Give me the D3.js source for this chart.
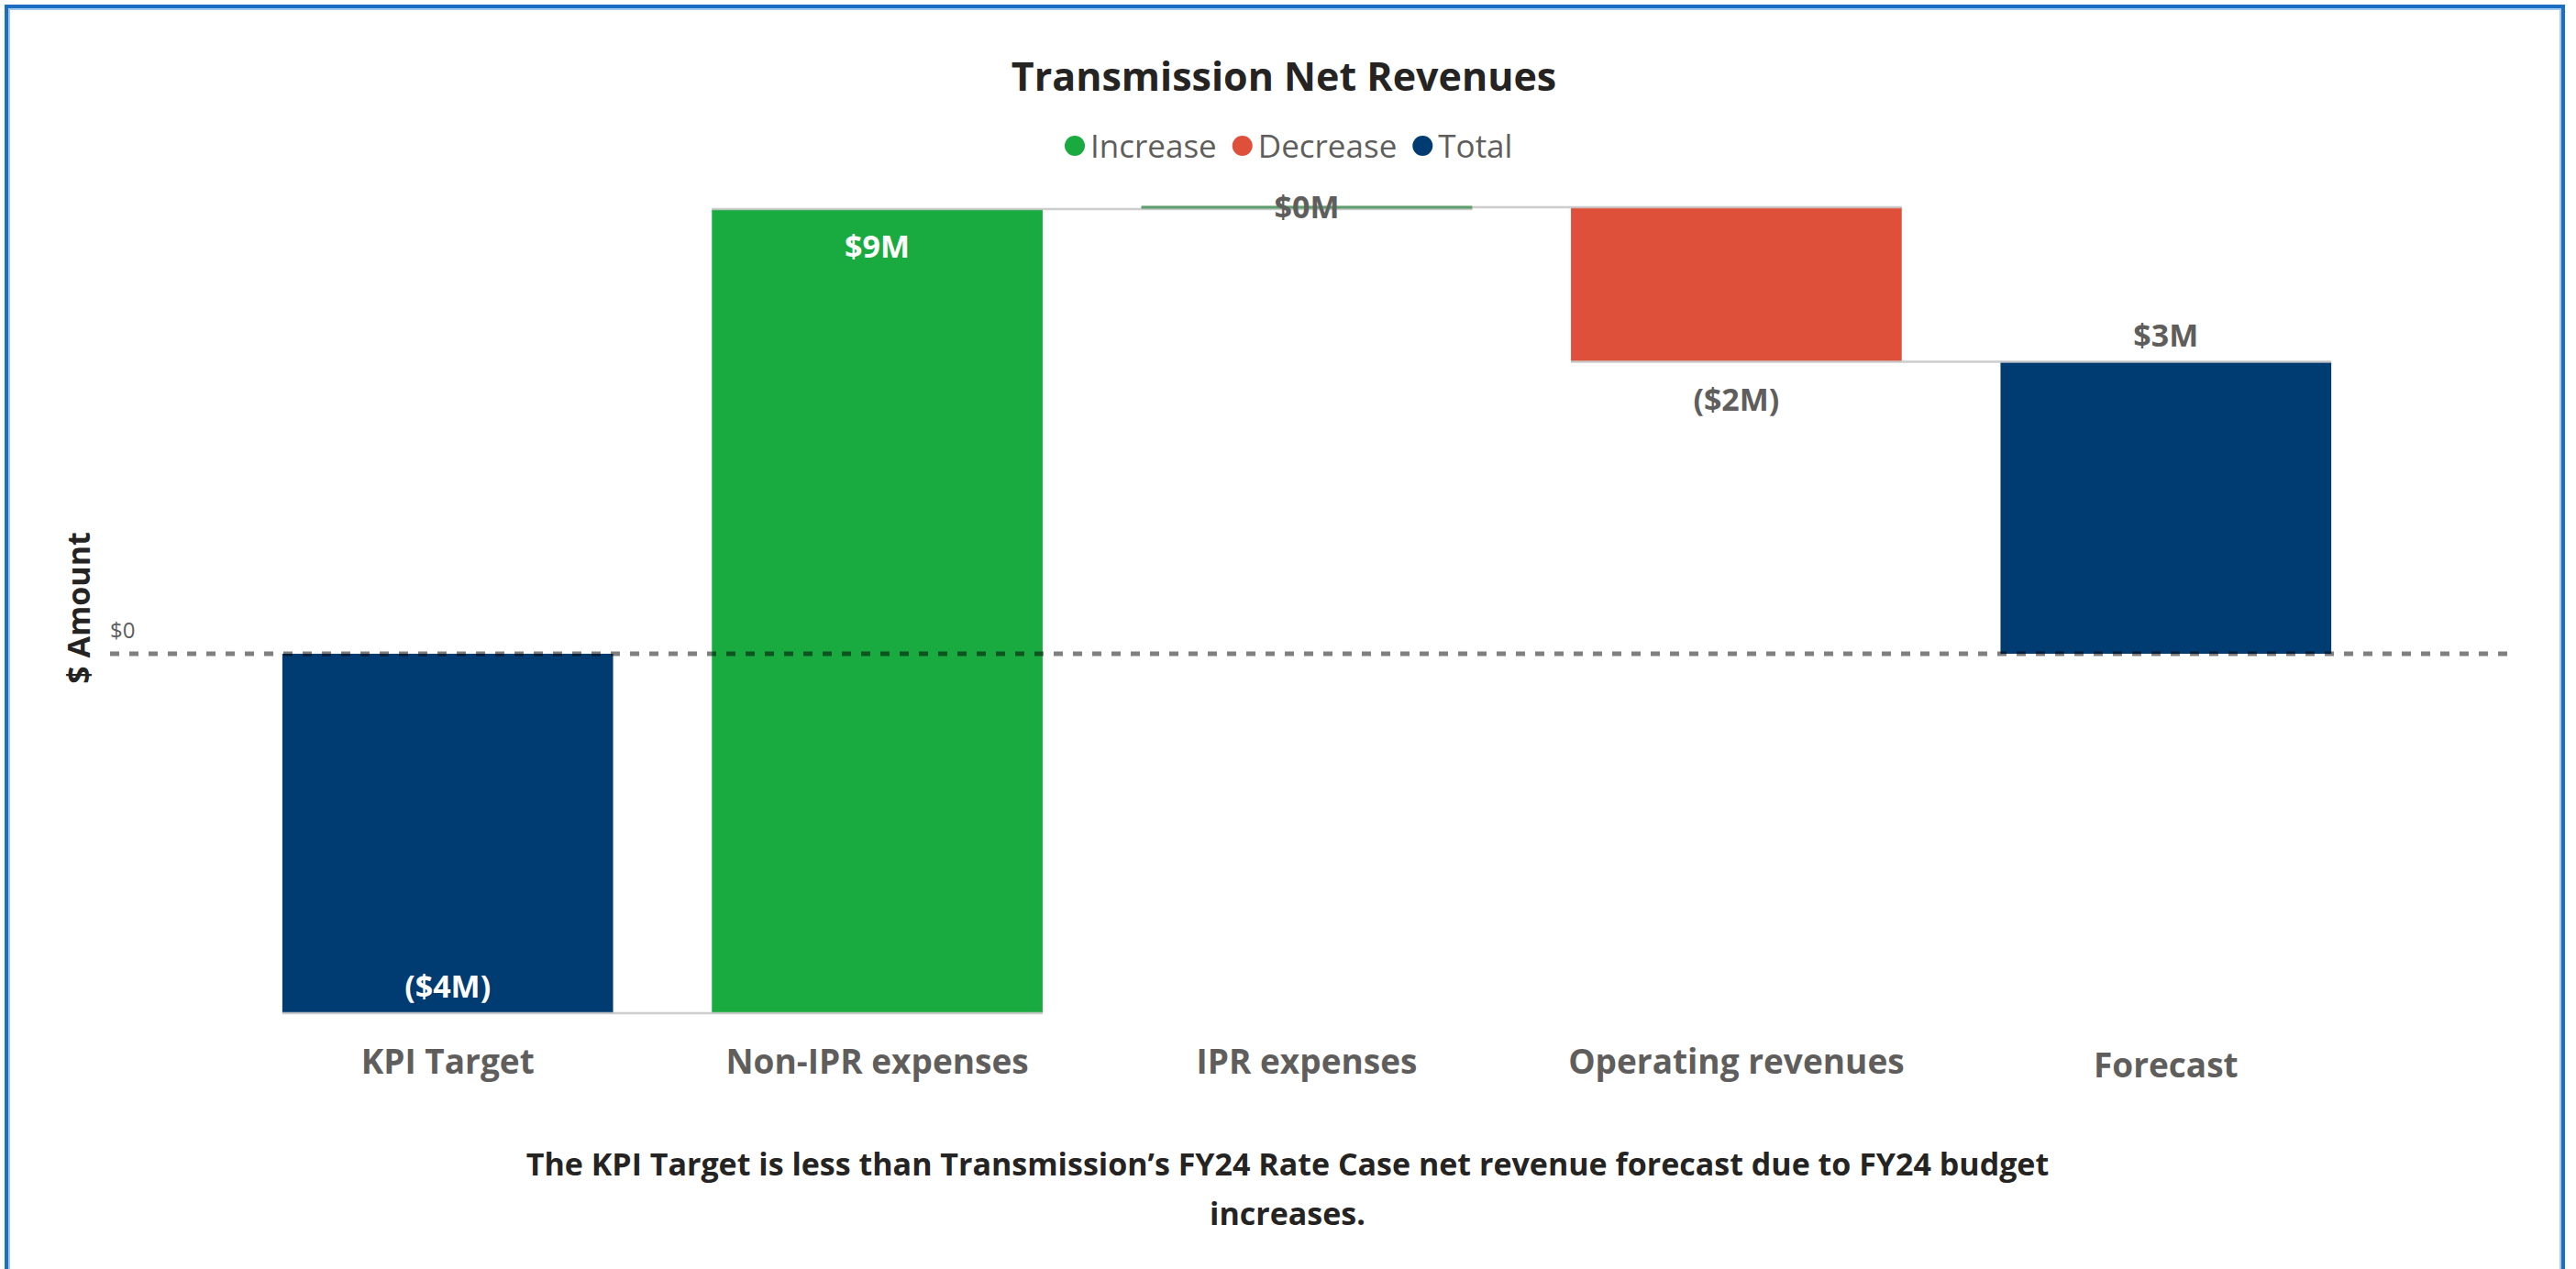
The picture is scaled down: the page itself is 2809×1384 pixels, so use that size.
<!DOCTYPE html>
<html>
<head>
<meta charset="utf-8">
<script src="https://cdn.jsdelivr.net/npm/d3@7/dist/d3.min.js"></script>
<style>
body{margin:0;background:#fff;}
text{font-family:"Open Sans","Noto Sans",sans-serif;}
</style>
</head>
<body>
<svg width="2809" height="1384"></svg>
<script>
// chart data
var categories = ['KPI Target','Non-IPR expenses','IPR expenses','Operating revenues','Forecast'];
var values = [-4.0, 8.95, 0.02, -1.72, 3.25];
var kinds = ['total','increase','increase','decrease','total'];
var valueLabels = ['($4M)','$9M','$0M','($2M)','$3M'];
var legendLabels = ['Increase','Decrease','Total'];
var legendKinds = ['increase','decrease','total'];
var yTicks = [0];
var yTickLabels = ['$0'];

var colors = {increase:'#1AAB40',decrease:'#DF503A',total:'#003B71'};
var grey = '#605E5C';
var dark = '#252423';

var svg = d3.select('svg');
var width = +svg.attr('width');
var height = +svg.attr('height');

// frame
svg.append('rect').attr('x',7).attr('y',7).attr('width',2788).attr('height',1500)
	.attr('fill','none').attr('stroke','#1A6FC4').attr('stroke-width',4);
svg.append('rect').attr('x',10).attr('y',10).attr('width',2782).attr('height',1500)
	.attr('fill','none').attr('stroke','#A9C9EC').attr('stroke-width',2);

// waterfall steps
var steps = [];
var running = 0;
for(i = 0; i < values.length; i++){
	var s = {cat:categories[i],kind:kinds[i],label:valueLabels[i],value:values[i]};
	if(kinds[i] == 'total'){ s.start = 0; s.end = values[i]; }
	else { s.start = running; s.end = running + values[i]; }
	running = s.end;
	steps.push(s);
}

var xscale = d3.scaleBand().domain(categories).range([254,2596]).paddingInner(0.23).paddingOuter(0.115);
var yscale = d3.scaleLinear().domain([-4,5]).range([1105,223]);
var bw = xscale.bandwidth();

var g = svg.append('g');

// bars
g.selectAll('rect.bar').data(steps).enter().append('rect')
	.attr('class','bar')
	.attr('x',d => xscale(d.cat))
	.attr('width',bw)
	.attr('y',d => Math.min(yscale(d.start),yscale(d.end)))
	.attr('height',d => Math.max(2.5,Math.abs(yscale(d.start)-yscale(d.end))))
	.attr('fill',d => colors[d.kind]);

// connectors
var conn = [];
for(i = 0; i < steps.length-1; i++){
	conn.push({x1:xscale(steps[i].cat),x2:xscale(steps[i+1].cat)+bw,y:steps[i].end});
}
g.selectAll('line.conn').data(conn).enter().append('line')
	.attr('x1',d => d.x1).attr('x2',d => d.x2)
	.attr('y1',d => yscale(d.y)).attr('y2',d => yscale(d.y))
	.attr('stroke','#C8C8C8').attr('stroke-width',2.5).attr('opacity',0.9);

// IPR tiny bar line
g.selectAll('line.thin').data(steps.filter(d => Math.abs(d.value) < 0.1)).enter().append('line')
	.attr('x1',d => xscale(d.cat)).attr('x2',d => xscale(d.cat)+bw)
	.attr('y1',d => yscale(d.end)).attr('y2',d => yscale(d.end))
	.attr('stroke','#5E9E6E').attr('stroke-width',3);

// zero line
g.selectAll('line.zero').data(yTicks).enter().append('line')
	.attr('x1',120).attr('x2',2745)
	.attr('y1',d => yscale(d)).attr('y2',d => yscale(d))
	.attr('stroke','#000').attr('stroke-opacity',0.5)
	.attr('stroke-width',5).attr('stroke-dasharray','10,11');

g.selectAll('text.ytick').data(yTicks).enter().append('text')
	.attr('x',120).attr('y',d => yscale(d)-17)
	.attr('font-size',24).attr('fill',grey)
	.text((d,i) => yTickLabels[i]);

// value labels
var labelPos = ['inside','inside','center','outside','outside'];
g.selectAll('text.val').data(steps).enter().append('text')
	.attr('x',d => xscale(d.cat)+bw/2)
	.attr('y',function(d,i){
		var endY = yscale(d.end);
		var up = d.end >= d.start;
		if(labelPos[i] == 'center') return endY;
		if(labelPos[i] == 'inside') return up ? endY+41 : endY-29;
		return up ? endY-29 : endY+41;
	})
	.attr('dy','0.36em')
	.attr('text-anchor','middle')
	.attr('font-size',34).attr('font-weight',700)
	.attr('fill',(d,i) => labelPos[i] == 'inside' ? '#fff' : grey)
	.text(d => d.label);

// x axis labels
g.selectAll('text.cat').data(categories).enter().append('text')
	.attr('x',d => xscale(d)+bw/2)
	.attr('y',(d,i) => i == 4 ? 1162 : 1158)
	.attr('dy','0.36em')
	.attr('text-anchor','middle')
	.attr('font-size',37).attr('font-weight',700).attr('fill',grey)
	.text(d => d);

// y axis title
svg.append('text')
	.attr('transform','translate(86,663) rotate(-90)')
	.attr('dy','0.36em')
	.attr('text-anchor','middle')
	.attr('font-size',34).attr('font-weight',700).attr('fill',dark)
	.text('$ Amount');

// title
svg.append('text')
	.attr('x',1400).attr('y',84).attr('dy','0.36em')
	.attr('text-anchor','middle')
	.attr('font-size',43).attr('font-weight',700).attr('fill',dark)
	.text('Transmission Net Revenues');

// legend
var lx = 1162;
var legend = svg.append('g');
legendLabels.forEach(function(l,i){
	legend.append('circle').attr('cx',lx+10).attr('cy',159).attr('r',11).attr('fill',colors[legendKinds[i]]);
	var t = legend.append('text').attr('x',lx+27).attr('y',159).attr('dy','0.36em')
		.attr('font-size',35).attr('fill',grey).text(l);
	lx = lx + 27 + t.node().getComputedTextLength() + 18;
});

// footnote
var notes = ['The KPI Target is less than Transmission\u2019s FY24 Rate Case net revenue forecast due to FY24 budget','increases.'];
svg.selectAll('text.note').data(notes).enter().append('text')
	.attr('x',1404).attr('y',(d,i) => 1270 + i*54).attr('dy','0.36em')
	.attr('text-anchor','middle')
	.attr('font-size',34).attr('font-weight',700).attr('fill',dark)
	.text(d => d);
</script>
</body>
</html>
